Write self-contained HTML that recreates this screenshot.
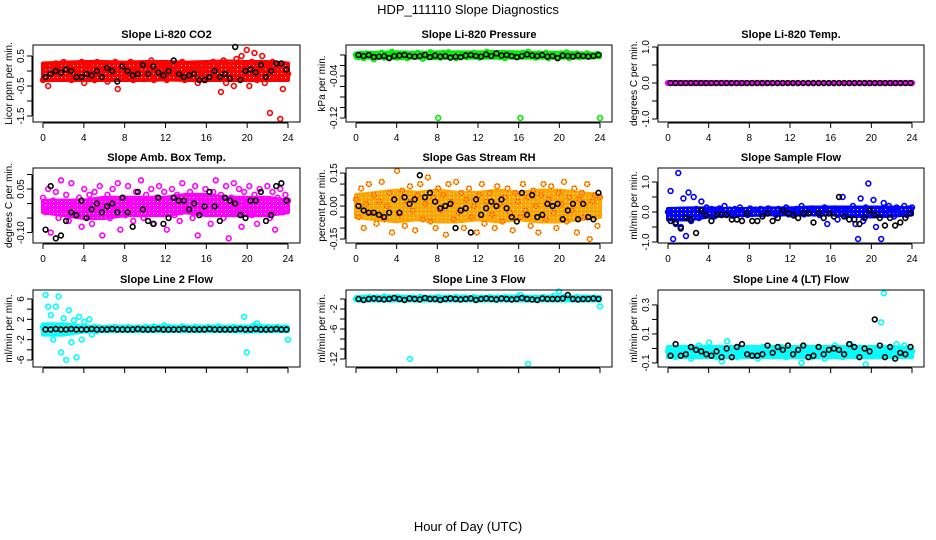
<!DOCTYPE html>
<html><head><meta charset="utf-8"><style>
html,body{margin:0;padding:0;background:#fff;}
svg{display:block;font-family:"Liberation Sans",Arial,sans-serif;}
</style></head><body>
<svg id="chart" width="936" height="540" viewBox="0 0 936 540" xmlns="http://www.w3.org/2000/svg">
<defs>
<pattern id="speck" width="4" height="4" patternUnits="userSpaceOnUse"><rect width="4" height="4" fill="#fff" fill-opacity="0"/><rect x="1" y="1" width="1" height="1" fill="#fff"/></pattern>
</defs>
<rect width="936" height="540" fill="#fff"/>
<text x="468" y="14" font-size="13" text-anchor="middle">HDP_111110  Slope Diagnostics</text>
<text x="468" y="531" font-size="13" text-anchor="middle">Hour of Day (UTC)</text>
</svg>
<script>
const xTicks = [0,4,8,12,16,20,24];
const bandHours = [0,2,4,6,8,10,12,14,16,18,20,22,24];
const co2Vals = [-0.3,0.1,-0.5,0.2,-0.1,0.25,0,-0.2,0.3,-0.1,0.1,-0.3,0.2,0,-0.2,0.3,-0.4,0.1,-0.1,0.2,-0.3,0.3,0,-0.2,0.1,-0.35,0.2,-0.1,0.3,-0.6,0.05,-0.2,
0.2,-0.1,0.3,-0.3,0.1,0,-0.2,0.25,-0.1,0.1,0.35,-0.3,0,0.2,-0.15,0.1,-0.3,0.25,0,-0.2,0.1,-0.1,0.3,-0.3,0.05,0.2,-0.2,0.1,-0.4,0.15,0,-0.3,
0.2,-0.1,0.3,-0.2,0.1,-0.7,0.35,-0.4,0.2,0.1,-0.5,0.4,-0.2,0.5,0.1,0.7,-0.5,0.3,0.6,-0.3,0.1,0.5,-0.4,0.2,-1.4,0.3,-0.2,0.1,-1.6,-0.6,0.2,-0.1];
const co2Black = [-0.2,-0.1,0,-0.05,0.05,0,-0.2,-0.2,-0.1,-0.15,0,-0.2,0.1,0,-0.35,0.15,0,-0.15,-0.1,0.2,-0.1,0.15,-0.05,-0.15,0,0.35,-0.1,-0.2,-0.15,-0.1,-0.3,-0.3,-0.2,0,-0.2,-0.1,-0.25,0.8,-0.3,0,0.05,-0.05,0.2,-0.2,0,0.25,0.25,0.05];
const co2BandLo = [-0.3,-0.3,-0.3,-0.3,-0.3,-0.3,-0.28,-0.3,-0.3,-0.3,-0.3,-0.3,-0.3];
const co2BandHi = [0.25,0.28,0.3,0.3,0.28,0.3,0.3,0.28,0.3,0.32,0.3,0.3,0.25];
const pressVals = [0,-0.004,0.002,-0.006,0.003,-0.002,0,-0.008,0.002,-0.003,0.004,-0.005,0,-0.003,0.006,-0.002,
-0.005,0.001,-0.004,0.003,-0.006,0,0.002,-0.003,0.004,-0.002,-0.007,0.001,-0.003,0.005,0,-0.004,
-0.12,-0.005,0.004,-0.002,0.005,-0.003,0.001,-0.006,0.003,-0.002,0,-0.004,0.002,-0.003,0.004,-0.001,
-0.005,0.002,-0.003,0.006,-0.002,0.004,-0.001,0.003,-0.004,0.002,-0.006,0.001,-0.002,0.003,0,-0.004,
-0.12,0.004,-0.002,0.006,-0.003,0.001,-0.005,0.003,0,-0.002,0.004,-0.006,0.002,-0.003,0.001,-0.004,
0.003,-0.002,0.005,-0.006,0.002,-0.001,0.003,-0.004,0.001,-0.002,0.003,-0.003,0,-0.002,0.002,-0.12];
const pressBlack = [0,-0.002,0,-0.004,-0.003,-0.002,-0.006,-0.002,-0.001,0,-0.002,-0.003,-0.002,0,-0.004,-0.001,-0.003,-0.002,-0.005,-0.003,-0.004,-0.001,0,-0.002,-0.003,0.001,-0.002,0.003,-0.001,0,-0.002,-0.004,-0.002,0.001,-0.001,-0.002,0,-0.003,-0.002,-0.006,-0.001,-0.002,-0.003,-0.001,-0.002,-0.003,-0.002,0];
const pressBandLo = [-0.005,-0.005,-0.006,-0.005,-0.006,-0.005,-0.005,-0.005,-0.005,-0.005,-0.005,-0.005,-0.004];
const pressBandHi = [0.003,0.004,0.005,0.004,0.005,0.005,0.005,0.006,0.005,0.004,0.004,0.003,0.002];
const tempVals = [0,0,0,0,0,0,0,0,0,0,0,0,0,0,0,0,0,0,0,0,0,0,0,0,0,0,0,0,0,0,0,0,0,0,0,0,0,0,0,0,0,0,0,0,0,0,0,0];
const tempBlack = [0,0,0,0,0,0,0,0,0,0,0,0,0,0,0,0,0,0,0,0,0,0,0,0,0,0,0,0,0,0,0,0,0,0,0,0,0,0,0,0,0,0,0,0,0,0,0,0];
const tempBandLo = [0,0,0,0,0,0,0,0,0,0,0,0,0];
const tempBandHi = [0,0,0,0,0,0,0,0,0,0,0,0,0];
const ambVals = [0.02,-0.03,0.05,-0.1,0.01,0.04,-0.05,0.08,-0.02,0.03,-0.06,0.07,0,-0.04,0.02,-0.08,
0.05,-0.01,0.03,-0.07,0.04,-0.03,0.06,-0.11,0.01,0.03,-0.05,0.05,-0.02,0.07,-0.09,0.02,
-0.04,0.06,0,-0.06,0.04,-0.02,0.08,-0.05,0.03,-0.01,0.05,-0.07,0.02,0.06,-0.03,0.04,
-0.09,0.01,0.05,-0.04,0.03,-0.06,0.07,0,-0.02,0.04,-0.05,0.06,-0.11,0.02,-0.03,0.05,
0.01,-0.07,0.04,0.08,-0.02,0.03,-0.05,0.06,-0.12,0.02,0.07,-0.03,0.05,-0.08,0.04,0,
0.06,-0.04,0.03,-0.07,0.05,0.01,-0.02,0.06,-0.05,0.04,-0.09,0.02,0.05,-0.03,0.03,0.01];
const ambBlack = [-0.09,0.06,-0.12,-0.11,-0.06,-0.03,-0.04,0.01,-0.05,-0.02,0,-0.03,-0.01,0,-0.03,0.02,-0.03,-0.08,0.04,-0.02,-0.06,-0.07,0.02,-0.07,-0.05,0.02,0.01,0.01,-0.02,0,-0.04,-0.01,0.04,-0.01,-0.06,0.02,0.01,0,-0.04,-0.05,0.01,0.01,0.04,-0.06,-0.04,0.06,0.07,0.01];
const ambBandLo = [-0.03,-0.04,-0.05,-0.05,-0.04,-0.04,-0.04,-0.03,-0.04,-0.04,-0.04,-0.04,-0.03];
const ambBandHi = [0.01,0.01,0.01,0.02,0.02,0.02,0.02,0.03,0.03,0.02,0.02,0.02,0.01];
const rhVals = [0.03,-0.05,0.08,-0.1,0.01,0.1,-0.03,0.05,-0.08,0.02,0.11,-0.06,0,0.06,-0.12,0.03,
0.16,-0.04,0.07,-0.09,0.02,0.09,-0.02,-0.11,0.05,0.1,-0.06,0.01,0.13,-0.07,0.04,-0.1,
0.08,-0.02,0.05,-0.13,0.1,0.02,-0.06,0.11,-0.03,0.06,-0.1,0.03,0.08,-0.05,0,-0.12,
0.05,0.1,-0.08,0.02,0.06,-0.04,-0.1,0.09,0.01,-0.07,0.04,0.08,-0.03,-0.11,0.06,0.02,
-0.05,0.1,-0.02,0.04,-0.09,0.07,0,-0.12,0.05,0.1,-0.06,0.03,0.09,-0.03,-0.1,0.06,
0.01,0.11,-0.07,0.04,-0.02,0.08,-0.12,0.03,0.06,-0.05,0.1,-0.15,0.02,0.05,-0.09,0.04];
const rhBlack = [0,-0.02,-0.03,-0.03,-0.04,-0.05,-0.03,0.03,-0.03,0.04,0.01,0.03,0.14,0.04,0.06,0.02,-0.01,0,0.01,-0.1,-0.02,-0.01,-0.12,0.03,-0.04,-0.01,0.02,0,0.03,-0.01,-0.05,-0.07,0.06,-0.04,0.05,-0.05,-0.04,0.01,0,0.01,-0.06,-0.02,0.01,-0.06,0.01,-0.05,-0.06,0.06];
const rhBandLo = [-0.05,-0.06,-0.07,-0.06,-0.07,-0.07,-0.06,-0.07,-0.06,-0.07,-0.07,-0.06,-0.05];
const rhBandHi = [0.05,0.06,0.07,0.06,0.07,0.06,0.06,0.07,0.06,0.07,0.07,0.06,0.05];
const sampleVals = [0,0.7,-0.9,-0.4,1.3,-0.5,0.45,-0.8,0.65,-0.3,0.5,0.1,-0.2,0.35,-0.1,0.15,
-0.05,0.1,-0.15,0.05,0.12,-0.1,0.2,-0.05,0.08,-0.12,0.1,0,0.15,-0.08,0.05,-0.1,
0.12,-0.05,0.08,-0.02,0.1,-0.08,0.05,0.12,-0.03,0.07,-0.1,0.1,-0.05,0.02,0.15,-0.08,
0.05,-0.12,0.1,0,0.2,-0.08,0.06,-0.02,0.12,-0.05,0.1,-0.1,0.05,0.15,-0.4,0.08,
-0.03,0.12,-0.25,0.05,0.5,-0.1,0.1,-0.05,0.2,-0.4,-0.9,0.45,-0.3,0.15,0.95,-0.05,
0.4,-0.5,0.1,-0.9,0.3,-0.1,0.2,0.05,-0.15,0.15,-0.05,0.1,0.2,-0.1,0.12,0.15];
const sampleBlack = [-0.3,-0.35,-0.55,-0.2,-0.25,-0.7,0.05,-0.1,-0.3,-0.1,-0.1,-0.1,-0.25,-0.25,-0.3,-0.05,-0.3,-0.3,-0.15,-0.05,-0.3,-0.2,0.05,-0.05,-0.1,-0.2,-0.05,-0.05,-0.35,-0.05,-0.2,-0.05,-0.15,0.5,-0.15,-0.25,-0.25,-0.4,-0.2,0.05,-0.1,-0.2,-0.45,-0.2,-0.45,-0.35,-0.2,-0.05];
const sampleBandLo = [-0.25,-0.25,-0.15,-0.1,-0.1,-0.08,-0.08,-0.08,-0.08,-0.12,-0.15,-0.12,-0.08];
const sampleBandHi = [0.1,0.12,0.12,0.1,0.1,0.12,0.12,0.15,0.15,0.15,0.15,0.15,0.12];
const line2Vals = [0.5,6.8,4.5,2.8,-2,4.5,6.5,-4.5,2.2,-6,3.8,-2.5,
1.8,-5.5,2.5,-2,1.5,0.3,2,-1,0.5,-0.3,0.4,0.2,
0.3,0,0.4,0.2,0.5,0.1,0.3,0.4,0.2,0.5,0,0.3,
0.2,0.4,0.1,0.3,0.5,0.2,0.3,0.6,0.1,0.4,0.2,0.8,
0.3,0.5,0.2,0.4,0.1,0.3,0.6,0.2,0.4,0.1,0.3,0.5,
0.2,0.4,0.3,0.1,0.5,0.2,0.4,0.3,0.6,0.2,0.3,0.1,
0.4,0.2,0.5,0.3,0.2,0.4,2.5,-4.5,0.3,0.5,0.8,1.2,
0.6,0.4,0.3,0.5,0.2,0.4,0.3,0.5,0.2,0.3,0.4,-2];
const line2Black = [0,0,0.1,0,0,0.1,0,0,0,0.1,0,0,0,0.1,0,0,0,0,0.1,0,0,0,0.1,0,0,0,0,0.1,0,0,0,0,0.1,0,0,0,0,0,0.1,0,0,0.1,0,0,0,0.1,0,0];
const line2BandLo = [-1,-1,-0.4,-0.3,-0.3,-0.3,-0.3,-0.3,-0.3,-0.3,-0.4,-0.3,-0.3];
const line2BandHi = [1,1,0.6,0.5,0.5,0.5,0.6,0.5,0.5,0.5,0.6,0.6,0.5];
const line3Vals = [0,0.2,0.1,0.3,0,0.4,0.2,0.1,0.3,0,0.2,0.5,0.1,0.3,0.2,0,0.4,0.1,0.3,0.2,0.1,-12,0.3,0,0.2,0.4,0.1,0.2,0,0.3,0.1,0.2,
0.4,0,0.2,0.1,0.3,0.2,0,0.4,0.1,0.2,0.3,0,0.2,0.1,0.4,0.2,0,0.3,0.1,0.2,0.4,0,0.1,0.3,0.2,0,0.4,0.1,0.3,0.2,0,0.5,
0.8,0.3,0.1,-13,0.2,0,0.3,0.1,0.2,0.4,0,0.2,0.3,0.6,0.1,1.5,0.2,0.4,0,0.3,0.2,0.1,0.4,0,0.2,0.3,0.1,0.2,0,0.3,0.1,-1.5];
const line3Black = [0,-0.2,0,0.1,0,-0.1,0,0.2,0,-0.2,0.1,0,-0.1,0.2,0,0,-0.2,0,0.1,0,-0.1,0,0.1,-0.2,0,0.1,0,-0.1,0.1,0,-0.1,0,0.2,0,-0.1,-0.2,0.1,0,0,0,0.1,0.8,0,-0.1,0,0,0.1,0];
const line3BandLo = [-0.3,-0.3,-0.3,-0.3,-0.3,-0.3,-0.3,-0.3,-0.3,-0.3,-0.3,-0.3,-0.3];
const line3BandHi = [0.4,0.4,0.5,0.4,0.4,0.4,0.4,0.4,0.5,0.4,0.4,0.4,0.4];
const line4Vals = [-0.02,-0.04,-0.01,-0.06,-0.03,0,-0.05,-0.02,-0.04,-0.07,-0.01,-0.03,0.02,-0.05,-0.02,-0.04,0.04,-0.03,-0.01,-0.06,-0.02,-0.09,-0.03,0.05,-0.04,-0.01,-0.03,-0.06,-0.02,0,-0.04,-0.03,
-0.05,-0.01,-0.03,-0.07,-0.02,0.01,-0.04,-0.03,0,-0.05,-0.02,-0.04,0.01,-0.03,-0.06,-0.02,-0.04,-0.01,-0.05,-0.03,-0.1,0.01,-0.04,-0.02,-0.06,-0.03,0,-0.04,-0.02,-0.07,-0.03,0,
-0.05,0.02,-0.04,-0.02,-0.06,-0.01,-0.03,0.03,-0.05,-0.02,-0.04,0,-0.03,-0.11,-0.02,-0.05,0,-0.03,-0.04,0.18,0.38,-0.02,-0.05,-0.01,-0.03,0.03,-0.04,-0.02,0.02,-0.05,-0.03,-0.02];
const line4Black = [-0.05,0.03,-0.05,-0.04,0.01,-0.01,-0.02,-0.04,-0.05,-0.02,-0.06,0,-0.06,0.01,0.03,-0.04,-0.05,-0.05,-0.04,0.02,-0.03,0.01,-0.01,0.02,-0.04,-0.01,0.02,-0.06,-0.05,0.01,-0.04,-0.01,0,-0.01,-0.04,0.03,0.01,-0.06,0,-0.02,0.2,0.02,-0.06,0.01,-0.07,-0.03,-0.04,0.01];
const line4BandLo = [-0.06,-0.06,-0.06,-0.06,-0.06,-0.06,-0.06,-0.06,-0.06,-0.06,-0.06,-0.06,-0.06];
const line4BandHi = [0.01,0.01,0.01,0.01,0.01,0.01,0.01,0.01,0.01,0.01,0.01,0.01,0.0];

const NS = "http://www.w3.org/2000/svg";
const svg = document.getElementById('chart');
function mk(tag, attrs, parent){ const e=document.createElementNS(NS,tag); for(const k in attrs) e.setAttribute(k,attrs[k]); (parent||svg).appendChild(e); return e; }

const cols=[[33,300],[346,612],[658,924]];
const rows=[[45,122],[168,243],[290,367]];
const panels=[
 {key:'co2',title:'Slope Li-820 CO2',ylab:'Licor ppm per min.',c:0,r:0,d:[-1.7,0.867],ticks:[-1.5,-1,-0.5,0,0.5],labels:['-1.5','-0.5','0.5'],vals:co2Vals,blk:co2Black,lo:co2BandLo,hi:co2BandHi,col:'#ff0000',xl:true},
 {key:'pressure',title:'Slope Li-820 Pressure',ylab:'kPa per min.',c:1,r:0,d:[-0.1276,0.019],ticks:[-0.12,-0.1,-0.08,-0.06,-0.04,-0.02,0],labels:['-0.12','-0.04'],vals:pressVals,blk:pressBlack,lo:pressBandLo,hi:pressBandHi,col:'#00ee00',xl:true},
 {key:'temp',title:'Slope Li-820 Temp.',ylab:'degrees C per min.',c:2,r:0,d:[-1.083,1.056],ticks:[-1,-0.5,0,0.5,1],labels:['-1.0','0.0','1.0'],vals:tempVals,blk:tempBlack,lo:tempBandLo,hi:tempBandHi,col:'#ff00ff',xl:true},
 {key:'ambbox',title:'Slope Amb. Box Temp.',ylab:'degrees C per min.',c:0,r:1,d:[-0.136,0.1224],ticks:[-0.1,-0.05,0,0.05,0.1],labels:['-0.10','0.05'],vals:ambVals,blk:ambBlack,lo:ambBandLo,hi:ambBandHi,col:'#ff00ff',xl:true},
 {key:'rh',title:'Slope Gas Stream RH',ylab:'percent per min.',c:1,r:1,d:[-0.168,0.173],ticks:[-0.15,-0.1,-0.05,0,0.05,0.1,0.15],labels:['-0.15','0.00','0.15'],vals:rhVals,blk:rhBlack,lo:rhBandLo,hi:rhBandHi,col:'#ffa500',xl:true,rh:true},
 {key:'sampleflow',title:'Slope Sample Flow',ylab:'ml/min per min.',c:2,r:1,d:[-1.033,1.467],ticks:[-1,-0.5,0,0.5,1],labels:['-1.0','0.0','1.0'],vals:sampleVals,blk:sampleBlack,lo:sampleBandLo,hi:sampleBandHi,col:'#0000ff',xl:true},
 {key:'line2',title:'Slope Line 2 Flow',ylab:'ml/min per min.',c:0,r:2,d:[-7.38,7.77],ticks:[-6,-4,-2,0,2,4,6],labels:['-6','-2','2','6'],vals:line2Vals,blk:line2Black,lo:line2BandLo,hi:line2BandHi,col:'#00ffff',xl:false},
 {key:'line3',title:'Slope Line 3 Flow',ylab:'ml/min per min.',c:1,r:2,d:[-13.6,1.8],ticks:[-12,-10,-8,-6,-4,-2,0],labels:['-12','-6','-2'],vals:line3Vals,blk:line3Black,lo:line3BandLo,hi:line3BandHi,col:'#00ffff',xl:false},
 {key:'line4',title:'Slope Line 4 (LT) Flow',ylab:'ml/min per min.',c:2,r:2,d:[-0.128,0.403],ticks:[-0.1,0,0.1,0.2,0.3],labels:['-0.1','0.1','0.3'],vals:line4Vals,blk:line4Black,lo:line4BandLo,hi:line4BandHi,col:'#00ffff',xl:false}
];

panels.forEach(p=>{
  const [L,R]=cols[p.c], [T,B]=rows[p.r];
  const x0=L+10, x1=R-12;
  const xs=h=>x0+(h/24)*(x1-x0);
  const ys=v=>B-(v-p.d[0])/(p.d[1]-p.d[0])*(B-T);
  const g=mk('g',{});
  
  
  const t=mk('text',{x:(L+R)/2,y:T-7,'font-size':11,'font-weight':'bold','text-anchor':'middle'},g);
  t.textContent=p.title;
  
  
  const yl=mk('text',{x:0,y:0,'font-size':10,'text-anchor':'middle',transform:`translate(${L-21},${(T+B)/2}) rotate(-90)`},g);
  yl.textContent=p.ylab;
  
  
  const up=bandHours.map((h,i)=>`${xs(h)},${ys(p.hi[i])}`);
  const dn=bandHours.map((h,i)=>`${xs(h)},${ys(p.lo[i])}`).reverse();
  const band=mk('polygon',{points:up.concat(dn).join(' '),fill:p.col,stroke:p.col,'stroke-width':4,'stroke-linejoin':'round'},g);
  
  
  const speck=mk('polygon',{points:up.concat(dn).join(' '),fill:'url(#speck)'},g);
  
  
  const pts=mk('g',{},g);
  
  
  const n=p.vals.length;
  p.vals.forEach((v,i)=>{
    const c=mk('circle',{cx:xs(i*24/(n-1)),cy:ys(v),r:2.4,fill:'none',stroke:p.col,'stroke-width':1.6},pts);
    
    
    if(p.rh){ mk('circle',{cx:xs(i*24/(n-1)),cy:ys(v),r:2.4,fill:'none',stroke:'#ff0000','stroke-width':1,'stroke-dasharray':'1 2'},pts); }
  });
  const m=p.blk.length;
  p.blk.forEach((v,i)=>{
    const c=mk('circle',{cx:xs(0.25+i*23.6/(m-1)),cy:ys(v),r:2.4,fill:'none',stroke:'#000','stroke-width':1.6},pts);
    
    
  });
  const box=mk('rect',{x:L,y:T,width:R-L,height:B-T,fill:'none',stroke:'#000','stroke-width':1},g);
  
  
  const xa=mk('g',{},g);
  
  
  mk('line',{x1:xs(0),x2:xs(24),y1:B+1,y2:B+1,stroke:'#000'},xa);
  xTicks.forEach(h=>{
    mk('line',{x1:xs(h),x2:xs(h),y1:B+1,y2:B+6,stroke:'#000'},xa);
    if(p.xl){ const tl=mk('text',{x:xs(h),y:B+19,'font-size':10,'text-anchor':'middle'},xa); tl.textContent=String(h); }
  });
  const ya=mk('g',{},g);
  
  
  mk('line',{x1:L-1,x2:L-1,y1:ys(p.ticks[0]),y2:ys(p.ticks[p.ticks.length-1]),stroke:'#000'},ya);
  p.ticks.forEach(v=>{ mk('line',{x1:L-6,x2:L-1,y1:ys(v),y2:ys(v),stroke:'#000'},ya); });
  p.labels.forEach(s=>{
    const v=parseFloat(s);
    const tl=mk('text',{x:0,y:0,'font-size':10,'text-anchor':'middle',transform:`translate(${L-9},${ys(v)}) rotate(-90)`},ya);
    tl.textContent=s;
  });
});
</script>
</body></html>
